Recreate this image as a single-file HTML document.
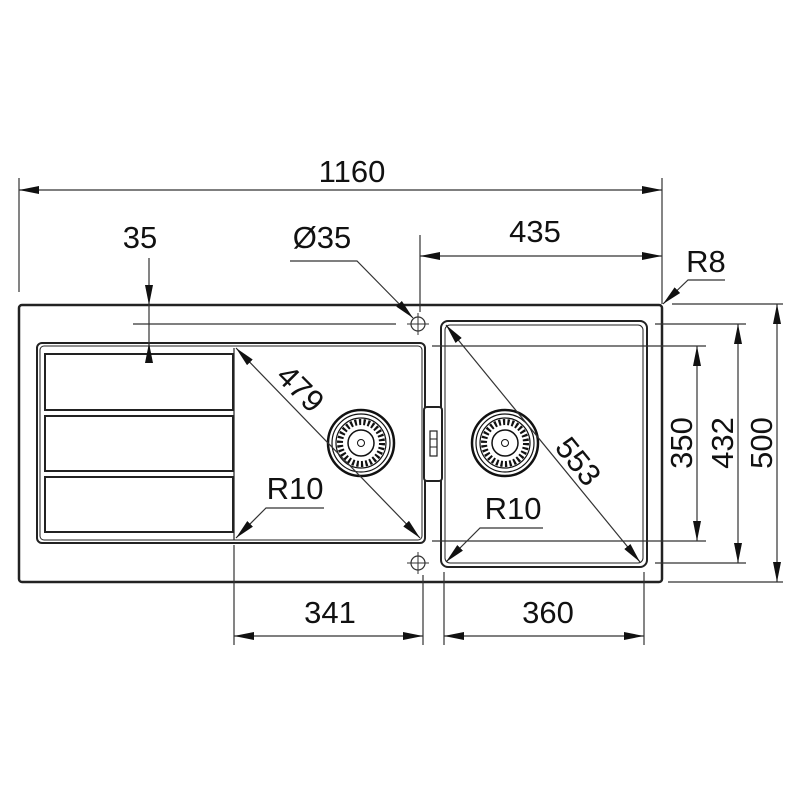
<!DOCTYPE html>
<html><head><meta charset="utf-8"><style>
html,body{margin:0;padding:0;background:#fff;}
svg{display:block;}
text{font-family:"Liberation Sans",sans-serif;font-size:31px;fill:#111;}
</style></head><body>
<svg width="800" height="800" viewBox="0 0 800 800" xmlns="http://www.w3.org/2000/svg">
<defs>
<marker id="a" viewBox="0 0 20 8" refX="20" refY="4" markerWidth="20" markerHeight="8" markerUnits="userSpaceOnUse" orient="auto-start-reverse">
<path d="M0,0 L20,4 L0,8 z" fill="#111"/>
</marker>
<g id="drain">
<circle r="33" fill="none" stroke="#111" stroke-width="2.5"/>
<circle r="29" fill="none" stroke="#111" stroke-width="1.2"/>
<circle r="25" fill="none" stroke="#111" stroke-width="1.2"/>
<circle r="21" fill="none" stroke="#111" stroke-width="6" stroke-dasharray="2.2 2.2"/>
<circle r="13" fill="#fff" stroke="#111" stroke-width="1.5"/>
<circle r="3.5" fill="none" stroke="#111" stroke-width="1"/>
</g>
<g id="tap">
<circle r="7" fill="none" stroke="#333" stroke-width="1.2"/>
<line x1="-11" y1="0" x2="11" y2="0" stroke="#333" stroke-width="1"/>
<line x1="0" y1="-11" x2="0" y2="11" stroke="#333" stroke-width="1"/>
</g>
</defs>

<g stroke="#222" fill="none">
<!-- outer -->
<rect x="19" y="305" width="643" height="277" rx="3" stroke-width="2.5"/>
<!-- left bowl/drainer -->
<rect x="37" y="343" width="388" height="200" rx="5" stroke-width="2"/>
<rect x="40" y="346" width="382" height="194" rx="4" stroke-width="1"/>
<rect x="45" y="354" width="188" height="56" stroke-width="2"/>
<rect x="45" y="416" width="188" height="55" stroke-width="2"/>
<rect x="45" y="477" width="188" height="55" stroke-width="2"/>
<line x1="234" y1="348" x2="234" y2="540" stroke-width="1.2"/>
<!-- right bowl -->
<rect x="441" y="321" width="206" height="246" rx="7" stroke-width="2"/>
<rect x="445" y="325" width="198" height="238" rx="5" stroke-width="1"/>
<!-- overflow -->
<rect x="424" y="407" width="18" height="74" rx="3" fill="#fff" stroke-width="2"/>
<rect x="430" y="431" width="7" height="25" stroke-width="1.2"/>
<line x1="430" y1="439" x2="437" y2="439" stroke-width="1"/>
<line x1="430" y1="447" x2="437" y2="447" stroke-width="1"/>
</g>
<use href="#drain" x="361" y="443"/>
<use href="#drain" x="505" y="443"/>
<use href="#tap" x="418" y="324"/>
<use href="#tap" x="418" y="563"/>

<g stroke="#333" stroke-width="1.2" fill="none">
<!-- extension lines -->
<line x1="19" y1="178" x2="19" y2="292"/>
<line x1="662" y1="178" x2="662" y2="304"/>
<line x1="420" y1="235" x2="420" y2="312"/>
<line x1="133" y1="324" x2="396" y2="324"/>
<line x1="234" y1="545" x2="234" y2="645"/>
<line x1="423" y1="575" x2="423" y2="645"/>
<line x1="444" y1="572" x2="444" y2="645"/>
<line x1="644" y1="572" x2="644" y2="645"/>
<line x1="432" y1="346" x2="706" y2="346"/>
<line x1="432" y1="541" x2="706" y2="541"/>
<line x1="655" y1="324" x2="746" y2="324"/>
<line x1="655" y1="563" x2="746" y2="563"/>
<line x1="672" y1="304" x2="783" y2="304"/>
<line x1="668" y1="582" x2="783" y2="582"/>
<!-- dims -->
<line x1="19" y1="190" x2="662" y2="190" marker-start="url(#a)" marker-end="url(#a)"/>
<line x1="420" y1="256" x2="662" y2="256" marker-start="url(#a)" marker-end="url(#a)"/>
<line x1="149" y1="258" x2="149" y2="305" marker-end="url(#a)"/>
<line x1="149" y1="360" x2="149" y2="343" marker-end="url(#a)"/>
<line x1="149" y1="305" x2="149" y2="343"/>
<polyline points="290,261 357,261 413,318" marker-end="url(#a)"/>
<polyline points="725,280 688,280 663,304" marker-end="url(#a)"/>
<line x1="697" y1="346" x2="697" y2="541" marker-start="url(#a)" marker-end="url(#a)"/>
<line x1="738" y1="324" x2="738" y2="563" marker-start="url(#a)" marker-end="url(#a)"/>
<line x1="777" y1="304" x2="777" y2="582" marker-start="url(#a)" marker-end="url(#a)"/>
<line x1="234" y1="636" x2="423" y2="636" marker-start="url(#a)" marker-end="url(#a)"/>
<line x1="444" y1="636" x2="644" y2="636" marker-start="url(#a)" marker-end="url(#a)"/>
<line x1="236" y1="348" x2="420" y2="538" marker-start="url(#a)" marker-end="url(#a)"/>
<line x1="446" y1="325" x2="640" y2="562" marker-start="url(#a)" marker-end="url(#a)"/>
<polyline points="324,508 266,508 236,538" marker-end="url(#a)"/>
<polyline points="543,528 480,528 446,562" marker-end="url(#a)"/>
</g>

<text x="352" y="182" text-anchor="middle">1160</text>
<text x="535" y="242" text-anchor="middle">435</text>
<text x="140" y="248" text-anchor="middle">35</text>
<text x="322" y="248" text-anchor="middle">Ø35</text>
<text x="706" y="272" text-anchor="middle">R8</text>
<text x="295" y="499" text-anchor="middle">R10</text>
<text x="513" y="519" text-anchor="middle">R10</text>
<text x="330" y="623" text-anchor="middle">341</text>
<text x="548" y="623" text-anchor="middle">360</text>
<text transform="translate(692,443) rotate(-90)" text-anchor="middle">350</text>
<text transform="translate(733,443) rotate(-90)" text-anchor="middle">432</text>
<text transform="translate(772,443) rotate(-90)" text-anchor="middle">500</text>
<text transform="translate(293,396) rotate(45)" text-anchor="middle">479</text>
<text transform="translate(570,468) rotate(51)" text-anchor="middle">553</text>
</svg>
</body></html>
